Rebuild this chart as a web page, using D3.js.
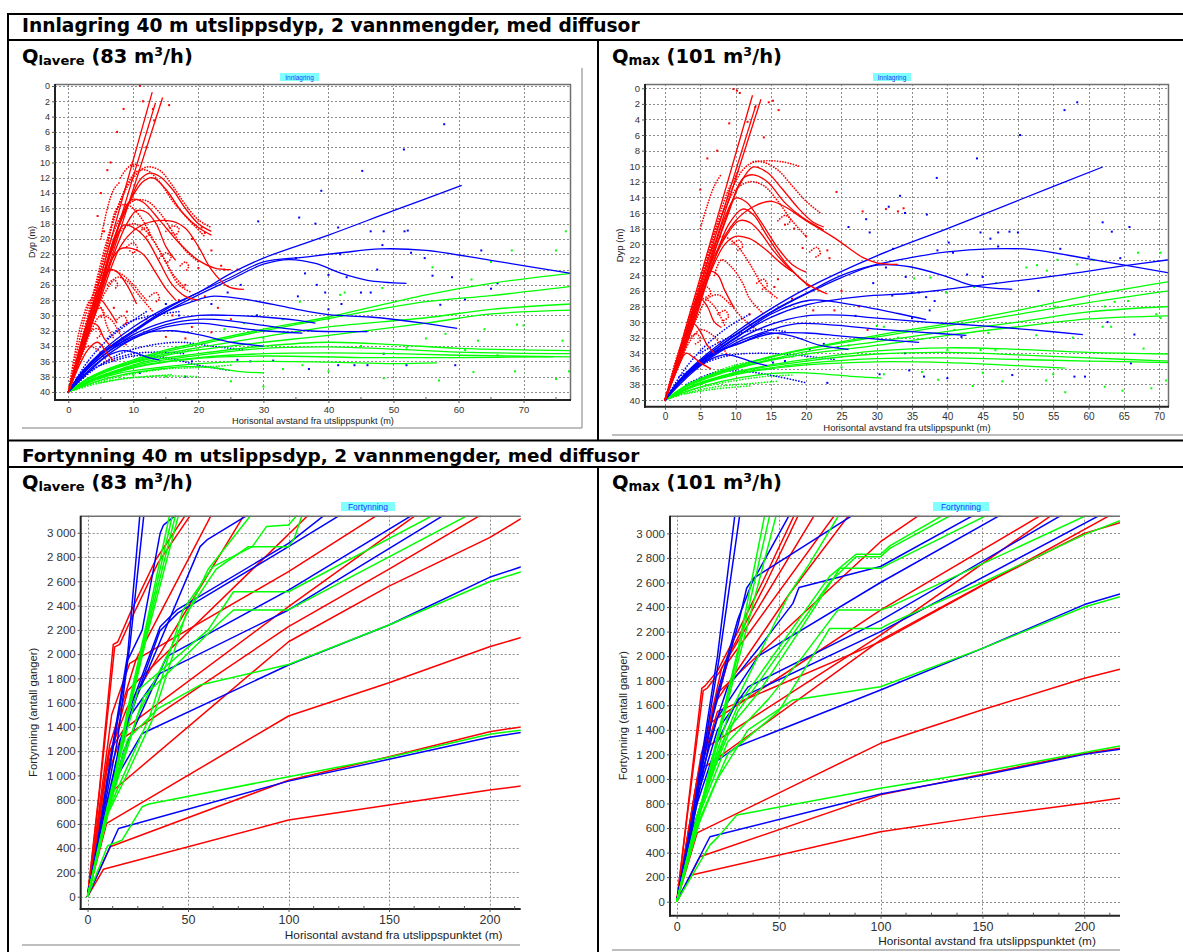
<!DOCTYPE html>
<html><head><meta charset="utf-8">
<script src="https://cdn.jsdelivr.net/npm/d3@7"></script>
<style>body{margin:0;background:#fff}svg{display:block}</style>
</head><body>
<svg id="c" width="1183" height="952"></svg>
<script>
// ================= DATA =================
const depthTicks = [0,2,4,6,8,10,12,14,16,18,20,22,24,26,28,30,32,34,36,38,40];
const innLowXTicks = [0,10,20,30,40,50,60,70];
const innLowXMinor = [5,15,25,35,45,55,65,75];
const innHighXTicks = [0,5,10,15,20,25,30,35,40,45,50,55,60,65,70];
const fortXTicks = [0,50,100,150,200];
const fortXMinor = [12.5,25,37.5,62.5,75,87.5,112.5,125,137.5,162.5,175,187.5,212.5];
const fortYTicks = [0,200,400,600,800,1000,1200,1400,1600,1800,2000,2200,2400,2600,2800,3000];

// ---- Innlagring, Q lavere ----
const innLowRedLines = [
 [[0,40],[12.9,0.8]],
 [[0,40],[14.5,1.5]],
 [[0,40],[13.4,2.2]],
 [[0,40],[4,29],[7,20],[9.5,15],[11,12.3],[12.5,11.4],[14,11.8],[16,13.5],[18,16],[20,18],[22,19]],
 [[0,40],[4,29],[7,20],[9.5,15],[11.5,12.5],[13,12],[15,13.5],[17.5,16.5],[20,18.5],[22,19.5]],
 [[0,40],[4,29],[7,20.5],[9,15.5],[10,14.8],[11.5,15.2],[14,17.5],[17,20.5],[20,22.8],[22.5,23.8],[25,24]],
 [[0,40],[4.5,29],[8,21],[10.5,18.6],[13,17.7],[16,17.7],[18,18.6],[20,21],[22,24],[24.5,26.2],[27,26.6]],
 [[0,40],[4,30],[7,22],[9,18],[10.5,16.3],[12,16.5],[13.5,18],[15,21],[16.5,22.8]],
 [[0,40],[4,30],[6.5,22],[8.5,18.2],[10,18.5],[12,20],[14,23],[16,26],[18,27.5],[20,28]],
 [[0,40],[4,30],[6.5,23],[8,21.3],[9.5,21.2],[11.5,22],[13.5,24.5],[15,26.5],[16.5,28]],
 [[0,40],[3,31],[5,26],[6.5,24],[7.5,24.3],[9,26],[10.5,28.5]],
 [[0,40],[2.5,32],[4,28.5],[5,28],[6,29],[7.5,31]],
 [[0,40],[2.5,33],[3.5,31],[4.5,31.3],[5.5,33],[6.5,34]],
 [[0,40],[3,34.5],[4.5,33.5],[6,35],[7,36]]
];
const innLowRedDotted = [
 [[0,40],[3,30],[6,20],[8,15],[10,12],[12,10.6],[14,11],[16,13],[18,15.5],[20,17.5],[22,18.5]],
 [[0,40],[3,31],[5,24],[7,17.5],[9,13],[10.5,11.2],[12,11],[14,12.5],[16,15],[18,17],[21,19.7]],
 [[0,40],[2,34],[4,27],[6,21],[7.5,16],[9,15.5],[11,17],[13,20],[15,23],[17,26],[19,27]],
 [[0,40],[1.5,34],[3,29],[5,25],[6,24],[8,24.5],[10,26],[12,28]],
 [[0,40],[1,35],[2,31],[3.5,28],[5,29],[6,31.5],[7,33]],
 [[0,40],[1.5,36],[3,32.5],[4.5,29],[6,26.5],[7.5,25],[9,25.5],[11,27.5],[13,29.5]],
 [[0,40],[2.5,33],[4.5,27],[6.5,22],[8,19],[10,18],[12,19],[14,21.5],[16,24.5],[18,26.5]],
 [[0,40],[2,35.5],[3.5,32],[5,30],[6.5,30.5],[8,32.5],[9,34]],
 [[0,40],[2.2,33.5],[4,28],[5.5,23.5],[7,19],[8.5,16.5],[10,15],[12,15],[14,16.5],[16,19],[18,21.5],[20,23]],
 [[0,40],[1,37],[2,35],[3,34],[4.5,34.5],[6,36]],
 [[5,20],[6,16],[7,13.5],[8,12.5]],
 [[8,12],[9,10.8],[10,10.2],[11,10.5]],
 [[15,19],[16,18.3],[17,18.6],[16.6,19.4],[15.8,19.2]],
 [[14,22.5],[15,21.8],[15.8,22.3],[15.3,23],[14.6,22.7]],
 [[17.2,23.5],[18,23],[18.5,23.6],[18,24.2]],
 [[9,21],[10,20.5],[10.6,21.2],[10,21.8],[9.4,21.5]],
 [[6,26],[7,25.3],[7.6,26],[7,26.6]],
 [[4,29.5],[5,29],[5.5,29.8],[4.9,30.3]],
 [[11,19],[12,18.5],[12.5,19.3],[11.8,19.8]],
 [[12.5,27.5],[13.5,27],[14,27.8],[13.3,28.3]],
 [[7.5,30.5],[8.5,30],[9,30.8],[8.3,31.3]],
 [[3.5,32],[4.5,31.7],[5,32.5],[4.3,33]]
];
const innLowRedPts = [[11,0],[7.5,6],[6.5,10],[10,10.5],[13,3],[12,8],[15.5,2.5],[13.2,4.5],[11.5,2],[8.5,3],[20.5,18.5],[21,19.2],[22,21.5],[23.5,23.5],[20,23.8],[18,26],[24,24],[26,24],[7,29],[12,30.5],[19,31.5],[25,30.5],[18,33],[22,32.2],[15,32.8],[9,29.5],[6,11],[5,14],[4.5,17],[5.5,19],[19,20],[17,28],[21,27.5],[23,29],[16,30]];
const innLowBlueLines = [
 [[0,40],[2,37.5],[5,34.8],[10,31.5],[15,29],[20,27],[25,24.5],[30,22.5],[40,19.5],[50,16.3],[60.5,13]],
 [[0,40],[2,37.5],[5,35],[10,32],[15,29.2],[20,27],[25,25],[30,23],[36,22.4],[42,21.8],[48,21.3],[55,21.5],[65,22.8],[77.3,24.5]],
 [[0,40],[2,37.5],[5,35],[10,32],[15,29.5],[20,27.3],[25,25.3],[30,23.3],[34,22.7],[38,23.2],[42,24.5],[46,25.4],[52,25.8]],
 [[0,40],[2,37.6],[5,35.1],[10,32.2],[15,29.5],[19,28.2],[22,27.5],[28,28],[34,29],[40,29.9],[46.4,30.2],[54.6,31],[59.8,31.7]],
 [[0,40],[2,37.8],[5,35.5],[10,32.5],[15,30.8],[20,30],[25,30],[30,30.2],[35,30.6],[38,31]],
 [[0,40],[3,36.8],[6,34.5],[10,32.8],[15,31.2],[20,30.5],[25,30.7],[30,31.3],[37,32],[46,32.1]],
 [[0,40],[3,37],[6,34.8],[10,33],[15,31.5],[20,31],[25,31.5],[30,32],[36,32.3]],
 [[0,40],[4,36.5],[8,34],[12,32.3],[16,32],[20,32.5],[25,33.5],[30,34]],
 [[0,40],[3,37.5],[6,35.3],[8.5,34.6],[10,34.8],[12,35.4],[14,35.8]]
];
const innLowBlueDotted = [
 [[0,40],[3,36],[6,33.2],[9,31.2],[12,29.5]],
 [[0,40],[4,37],[8,35],[12,34],[17,33.5],[22,34],[27,34.5]],
 [[5,36.5],[10,35.3],[15,35.5],[20,36.5],[25,37.2]],
 [[6,33],[9,31],[13,30],[17,29.5]],
 [[2,38],[6,36],[10,35],[14,34.8],[18,35]]
];
const innLowBluePts = [[57.8,5],[51.6,8.3],[45.2,11.1],[38.9,13.7],[35.5,17.2],[38,18],[29.2,17.7],[41.5,18.5],[46.5,19],[48.5,19],[51.7,19],[52.2,18.9],[48.3,20.8],[52.7,21.8],[41.8,22],[35,22.5],[36.4,24.5],[40,24.7],[47.5,24],[56,24.8],[59,25],[63.5,21.5],[42.8,25],[38.2,26],[45,27],[46.5,27],[35.3,27.5],[39.5,27],[57.2,28.6],[61,27.9],[24.5,27],[26.5,26],[22,28.5],[40,29.2],[42,28.5],[29,30],[48.5,35],[52,36.5],[44,36.5],[46,36.5],[37,37],[41.5,36.5],[59.5,36.5],[26,35.8],[28,36],[19,36],[11,37.5],[18,38],[31.5,35.9],[65,26.5],[66,25.8],[54.8,22.5],[15,28.5],[17,30]];
const innLowGreenLines = [
 [[0,40],[3,38.2],[6,37],[10,35.8],[15,34.5],[20,33.6],[30,31.8],[40,30.2],[55,27.3],[65,25.8],[77.3,24.5]],
 [[0,40],[3,38.3],[6,37.1],[10,36],[15,34.7],[20,33.8],[30,32],[40,30.4],[55,28.2],[65,27.4],[77.3,26.2]],
 [[0,40],[3,38.3],[6,37.2],[10,36.1],[15,35],[20,34.2],[30,32.8],[40,31.5],[55,30.3],[65,29.2],[77.3,28.5]],
 [[0,40],[3,38.4],[6,37.3],[10,36.2],[15,35.2],[20,34.5],[30,33.5],[40,32.6],[55,31],[65,29.8],[77.3,29.3]],
 [[0,40],[4,38.2],[8,37],[12,36],[20,35],[30,34],[40,33.5],[50,33.8],[60,34.3],[77.3,34.6]],
 [[0,40],[4,38.3],[8,37.1],[12,36.2],[20,35.2],[30,34.3],[40,34.1],[50,34.4],[60,34.8],[77.3,35]],
 [[0,40],[4,38.4],[8,37.2],[12,36.4],[20,35.5],[30,35],[40,34.9],[50,35],[60,35.2],[77.3,35.4]],
 [[0,40],[4,38.4],[8,37.3],[12,36.5],[20,35.6],[30,35.3],[45,35.5],[60,35.5],[74.6,35.4]],
 [[0,40],[4,38.5],[8,37.5],[14,36.8],[22,36.2],[30,36],[40,36.1],[50,36.3],[56.7,36.2]],
 [[0,40],[4,38.7],[8,37.8],[14,37],[18,36.7],[22,36.8],[26,37.3],[30,37.5]]
];
const innLowGreenDotted = [
 [[0,40],[4,39],[8,38.3],[12,38],[16,37.7]],
 [[0,40],[5,38.6],[10,37.6],[15,37],[20,36.8],[25,36.5]],
 [[5,38.8],[10,38.1],[15,37.9],[20,38]],
 [[8,36.5],[12,35.3],[16,34.8],[20,34.5]]
];
const innLowGreenPts = [[76.5,19],[75,21.5],[68.2,21.5],[65,23],[56,23.7],[62,25.3],[48.3,26.4],[42.5,27],[41.8,27.3],[35.6,28.2],[40,30.5],[42,30],[29,30],[33,30.5],[27,31],[24,31.8],[30,33],[45,34],[52,34.2],[61,34.5],[76,33.3],[64,31.8],[69,31.2],[70,31.3],[63,33.3],[66,35.2],[40,37.3],[48.5,38.2],[57,38.5],[62.3,37.4],[68.7,37.3],[75,38.3],[77,37.3],[30,39.3],[36,36.5],[33,37],[25,38.6],[15,38],[10,37.8],[55,33],[58,32.4]];

// ---- Innlagring, Q max ----
const innHighRedLines = [
 [[0,40],[12.4,0.9]],
 [[0,40],[13.6,1.4]],
 [[0,40],[12.9,2.1]],
 [[0,40],[4,29],[7,21],[9,16],[10.5,12.5],[12.5,10.1],[14.5,10.8],[16.5,12.8],[19,15.5],[21,17.2],[22.5,17.8]],
 [[0,40],[4,29],[7,21],[9.5,14.5],[11,11.6],[12.5,11.1],[14.5,12],[17,14.7],[19.5,16.6],[22.5,18.2]],
 [[0,40],[4,29.5],[7,21.5],[10,17],[12.5,15.2],[15,14.5],[17,15.2],[20,17],[24,19.2],[28,21.7],[30,22.4],[33,22.6]],
 [[0,40],[4,29.5],[7,20.5],[8.5,16.5],[10,14.1],[11.5,14.6],[13.5,17],[16,20.5],[18,22.6],[20,23.6]],
 [[0,40],[4,30],[7,22],[9,17.5],[11,15.5],[12.5,16.2],[14.5,19],[17,22.3],[20,25],[23,26.4]],
 [[0,40],[4,30],[6.5,23],[8.5,19.2],[10.5,17],[12,17.2],[13.5,18.5],[15.5,21],[17.5,23],[20.5,25.5]],
 [[0,40],[4,30.5],[6.5,23.5],[8.5,20],[10,19],[12,19.3],[14,20.5],[16.5,22.5],[18,23.5]],
 [[0,40],[3,32],[5,26],[6.5,23.5],[7.5,24],[8.5,26],[9.8,28.2]],
 [[0,40],[2.5,33],[4,28.5],[5,27],[6,28],[7,30],[8,30.7]],
 [[0,40],[2,34.5],[3,32],[4,30.2],[5,31.2],[6,33],[7,34]],
 [[0,40],[2,35.5],[3,34],[4,34.5],[5,35.2],[6.5,36]]
];
const innHighRedDotted = [
 [[0,40],[3,31],[5,25],[7,19],[9,14],[11,10.5],[12.5,9.5],[14,9.5],[16,10.5],[18,12.5],[20,14.5],[22,16]],
 [[0,40],[2.5,33],[4.5,27],[6,22],[7.5,17],[9,13],[10.5,10.5]],
 [[12.5,9.4],[15,9.3],[17,9.5],[19,10]],
 [[0,40],[2,34],[3.5,29],[5,25],[6.5,21],[8,19],[10,20],[12,22.5],[14,25.5],[16,27]],
 [[0,40],[1.5,35],[3,31],[4,28],[5.5,27],[7,28],[8.5,30.5]],
 [[7,24],[8,22],[9.5,23],[11,25],[12,27],[14,29]],
 [[0,40],[2.2,33.5],[4,28],[5.5,23],[7,18.5],[8.5,15.5],[10,13],[12,12],[14,12.5],[16,14.5],[18,17],[20,19]],
 [[0,40],[1.5,36],[3,32.5],[4.5,29.5],[6,27],[7.5,26.5],[9,27.5],[11,29.5],[13,31]],
 [[0,40],[2,35.5],[3.5,32.5],[5,31],[6.5,31.5],[8,33],[9,34.5]],
 [[5,18],[6,15],[7,12.5],[8,11]],
 [[16,17],[17,16.3],[17.8,16.9],[17.2,17.6]],
 [[20.5,21],[21.5,20.4],[22,21.2],[21.3,21.7]],
 [[9.5,20],[10.5,19.5],[11,20.3],[10.3,20.8]],
 [[5,26],[6,25.5],[6.5,26.3],[5.8,26.8]],
 [[13,25],[14,24.5],[14.5,25.3],[13.8,25.8]],
 [[7.5,29],[8.5,28.5],[9,29.3],[8.3,29.8]],
 [[3.5,32],[4.5,31.5],[5,32.3],[4.3,32.8]]
];
const innHighRedPts = [[9.7,0.1],[10.2,0.3],[10.6,0.6],[14.7,1.8],[15.3,1.6],[12.8,2.4],[16.1,2.8],[9.1,4.5],[11.7,4.3],[14,6.3],[7.4,8],[24.3,13.3],[31.3,15.5],[33,15.8],[33.8,15.4],[28,15.8],[23,20.8],[23.3,21.8],[17,17.5],[18.3,18],[25,26],[27.5,28],[24,28.5],[28.7,31],[20,19],[19.5,20.5],[16,24.5],[15.5,25.5],[6,9],[5,13],[18,27],[21,28.5],[12,29],[16,32]];
const innHighBlueLines = [
 [[0,40],[2,37.5],[5,34.8],[10,31.3],[15,28.3],[20,25.7],[30,21.5],[40,18],[50,14.4],[62,10.1]],
 [[0,40],[2,37.6],[5,35],[10,31.6],[15,28.7],[20,26.3],[25,24],[30,22.6],[35,21.7],[40,21],[46,20.6],[52,20.7],[60,21.9],[71.4,23.7]],
 [[0,40],[2,37.6],[5,35],[10,31.7],[15,28.8],[20,26.4],[25,24.3],[30,22.7],[34.7,22.9],[40,24.2],[43.5,25.3],[49.2,25.8]],
 [[0,40],[2,37.7],[5,35.2],[10,32],[15,29.4],[20,27.8],[28,26.7],[35,26.3],[43.5,25.4],[55,24.1],[64.9,22.8],[71.4,22]],
 [[0,40],[2,37.7],[5,35.2],[10,32.1],[15,29],[20.5,27.2],[26,27.7],[33,28.9],[37,29.7]],
 [[0,40],[2,37.8],[5,35.4],[10,32.4],[15,30.3],[20,29.2],[25,29.1],[30,29.5],[37,30],[45,30.5],[52,31],[59.2,31.6]],
 [[0,40],[2,37.8],[5,35.5],[10,32.7],[15,31],[18.7,30.2],[24,30.4],[30,30.9],[36,31.3],[42.7,31.7]],
 [[0,40],[3,36.7],[6,34.4],[10,32.9],[15,31.5],[20,31.4],[25,31.8],[30,32.2],[36,32.6]],
 [[0,40],[3,37.2],[6,35],[8.3,34.2],[10,34.4],[12,35],[14.5,35.6]],
 [[0,40],[3,36.9],[7,34],[11,32.6],[14.4,31.4],[18,31.8],[22,33],[26,33.5]]
];
const innHighBlueDotted = [
 [[0,40],[3,35.8],[6,32.8],[9,30.6],[12,29]],
 [[2,37],[5,35.5],[9,34.3],[13,34],[18,34.2],[24,34.8]],
 [[3,38],[7,36.5],[11,36.3],[16,37],[20,37.8]],
 [[5,34],[9,32],[13,31],[17,31.2]]
];
const innHighBluePts = [[58.4,1.8],[56.6,2.8],[50.3,6],[44.2,9],[38.5,11.5],[33.3,13.8],[31.7,15.2],[34,16],[28.5,16.8],[26,17.8],[29,18.5],[37.1,16.2],[62,17.2],[63.3,18.4],[65.8,17.8],[44.7,18.5],[47.2,18.5],[48.8,18.4],[50,18.5],[46.1,19.3],[47.2,20.3],[40.2,19.8],[40.8,21.1],[38.6,20.8],[32.3,20.6],[31.3,23],[34.1,24.2],[56,20.6],[60,21.6],[64.5,21.8],[42.8,23.9],[45,24.2],[29.5,25],[35,26.2],[32.2,26.6],[36,26.2],[37,26.8],[38.2,27.3],[37.5,28.5],[35,29.5],[27,29.2],[52.9,26],[62.7,30],[42,31.9],[66.5,31.6],[34,34],[49.2,36.8],[40,37.2],[36.7,37],[34.6,36.2],[30.4,36.7],[58,37],[59.5,37],[66,35.3],[24.5,33.2],[22.5,32.8],[20.5,33.5],[17,35],[15.3,35.2],[23,37.8]];
const innHighGreenLines = [
 [[0,40],[3,38.1],[6,36.9],[10,35.7],[15,34.4],[20,33.4],[30,31.7],[40,30.2],[50,28.5],[60,26.6],[71.4,24.8]],
 [[0,40],[3,38.2],[6,37],[10,35.8],[15,34.5],[20,33.5],[30,31.9],[40,30.5],[50,29],[60,27.5],[71.4,26]],
 [[0,40],[3,38.3],[6,37.1],[10,35.9],[15,34.8],[20,33.8],[30,32.5],[40,31.2],[50,30],[60,28.7],[71.4,28]],
 [[0,40],[3,38.3],[6,37.2],[10,36],[15,34.9],[20,34.1],[30,33],[40,31.7],[50,30.6],[60,29.6],[71.4,29.2]],
 [[0,40],[4,38.1],[8,36.9],[12,36],[20,34.8],[30,33.7],[40,33.3],[50,33.5],[60,33.9],[71.4,34.1]],
 [[0,40],[4,38.2],[8,37],[12,36.1],[20,35],[30,34.1],[40,33.9],[50,34.2],[60,34.6],[71.4,35]],
 [[0,40],[4,38.3],[8,37.1],[12,36.3],[20,35.3],[30,34.7],[40,34.6],[50,34.8],[60,35],[71.4,35.2]],
 [[0,40],[4,38.3],[8,37.2],[12,36.4],[20,35.5],[30,35.1],[40,35.2],[50,35.6],[56.7,35.9]],
 [[0,40],[4,38.6],[8,37.6],[13,36.8],[18,36.5],[23,36.7],[27,37],[30.7,37.2]]
];
const innHighGreenDotted = [
 [[0,40],[4,38.9],[8,38.2],[12,37.9],[16,37.6]],
 [[1,39.5],[5,38.4],[10,37.5],[14,37],[18,36.8]],
 [[3,39.2],[7,38.6],[12,38.2]],
 [[6,36.8],[10,35.5],[14,34.8],[18,34.5]]
];
const innHighGreenPts = [[70.2,21.1],[67,21.1],[55.6,22],[60.5,22],[58.4,22.6],[54.1,23.4],[51.2,23],[52.7,22.7],[46.9,25],[43.8,25.5],[35.3,24.4],[37.6,24.3],[39.8,26.2],[55.3,28],[62.3,28],[63.7,27.4],[65.6,27.3],[69.6,29],[70.2,29.5],[62,30.6],[63.2,30.6],[41,31],[45.8,31.4],[30,30.5],[31,30.6],[33,32],[40,33.6],[52.6,31.7],[57.8,32],[67.8,33.4],[44.7,33.6],[46.8,33.6],[31,36.7],[36.4,36.4],[38.7,37.4],[45,36.5],[47.8,37.6],[54,37.5],[56.7,39],[55,36.7],[62.3,38.3],[64.8,38.8],[68.9,38.5],[71,37.5],[43.6,38.2],[25,35.8],[26,33]];

// ---- Fortynning, Q lavere ----
const fortLowRed = [
 [[0,0],[6,900],[12.8,2080],[15,2100],[21,2330],[34,2780],[49.3,3160]],
 [[0,0],[6,870],[13.5,2060],[16,2080],[22,2300],[35,2750],[51.8,3160]],
 [[0,0],[7.9,226],[100,632],[150,756],[200,880],[216,913]],
 [[0,0],[11.2,412],[100,960],[150,1154],[200,1360],[216,1401]],
 [[0,0],[9.5,605],[100,1490],[150,1764],[200,2061],[216,2138]],
 [[0,0],[8,750],[13,880],[100,2102],[150,2560],[200,2960],[216,3120]],
 [[0,0],[10,1000],[16.2,1291],[100,2226],[150,2700],[197,3160]],
 [[0,0],[10,1150],[19.5,1552],[78.4,3160]],
 [[0,0],[11,1200],[18,1380],[100,2391],[164.6,3160]],
 [[0,0],[12,1500],[21,1924],[100,2680],[145.5,3160]],
 [[0,0],[9,1000],[20,1700],[110.7,3160]],
 [[0,0],[11,1250],[24,1950],[62,3160]]
];
const fortLowBlue = [
 [[0,0],[5,450],[12,1200],[20,2000],[26.1,3160]],
 [[0,0],[5,420],[12,1150],[21,2060],[28.1,3160]],
 [[0,0],[8,700],[15,1300],[20,1950],[27.2,2198],[36.1,2996],[37.8,3064],[45,3160]],
 [[0,0],[8,650],[14,1100],[24.5,1649],[56,2886],[59.4,2941],[81,3160]],
 [[0,0],[10,800],[20,1500],[36.1,2226],[44.4,2364],[100,2913],[119,3160]],
 [[0,0],[10,780],[20,1450],[36,2190],[45,2340],[100,2886],[127,3160]],
 [[0,0],[10,700],[18,1200],[39.4,1979],[100,2528],[163,3160]],
 [[0,0],[10,720],[16.2,1291],[20.9,1484],[36.1,1841],[100,2364],[178.7,3160]],
 [[0,0],[8,600],[15,1000],[27.2,1346],[100,1910],[150,2240],[200,2633],[216,2721]],
 [[0,0],[15.4,563],[100,953],[150,1133],[200,1314],[216,1355]]
];
const fortLowGreen = [
 [[0,0],[10,700],[20,1550],[30,2300],[41,3160]],
 [[0,0],[10,690],[20,1520],[30,2260],[42.5,3160]],
 [[0,0],[10,680],[20,1500],[30,2220],[44,3160]],
 [[0,0],[10,670],[20,1480],[30,2180],[45.5,3160]],
 [[0,0],[10,420],[17.2,467],[27.2,742],[30.5,764],[100,989],[150,1150],[200,1340],[216,1374]],
 [[0,0],[10,700],[17.6,990],[30.9,1484],[47.5,2364],[62.5,2721],[82,2886],[89,3051],[100,3064],[105,3160]],
 [[0,0],[10,680],[18,950],[32,1450],[49,2330],[64,2700],[80,2886],[100,2886],[103,2960],[107,3160]],
 [[0,0],[12,900],[25,1700],[60,2200],[72.6,2514],[100,2514],[173.7,3160]],
 [[0,0],[12,850],[28,1650],[65,2250],[72.6,2364],[100,2364],[191,3160]],
 [[0,0],[10,750],[20,1300],[35,1550],[56,1745],[100,1915],[150,2240],[200,2597],[216,2680]],
 [[0,0],[10,700],[25,1500],[40,2000],[60,2700],[82,3160]]
];

// ---- Fortynning, Q max ----
const fortHighRed = [
 [[0,0],[5,700],[12.3,1738],[14,1760],[20,1880],[30,2200],[42,2600],[58,3160]],
 [[0,0],[5,680],[13,1720],[15,1740],[21,1870],[31,2180],[44,2600],[60,3160]],
 [[0,0],[7.3,217],[100,570],[150,693],[200,802],[217.5,842]],
 [[0,0],[11.4,366],[100,870],[150,1039],[200,1207],[217.5,1250]],
 [[0,0],[10,560],[100,1290],[150,1563],[200,1820],[217.5,1893]],
 [[0,0],[8,650],[12,1100],[15,1110],[100,2130],[150,2580],[200,3000],[217.5,3087]],
 [[0,0],[9,800],[14,1250],[100,2172],[185,3160]],
 [[0,0],[10,900],[16,1450],[100,2375],[180,3160]],
 [[0,0],[11,1000],[20,1700],[100,2932],[120,3160]],
 [[0,0],[12,1100],[20,1550],[100,2118],[214,3160]],
 [[0,0],[10,1000],[22,1900],[68,3160]],
 [[0,0],[12,1200],[25,1950],[78,3160]],
 [[0,0],[9,900],[18,1600],[55,2500],[85,3160]]
];
const fortHighBlue = [
 [[0,0],[5,380],[12,1150],[20,2000],[28.6,3160]],
 [[0,0],[5,360],[12,1100],[21,2000],[31,3160]],
 [[0,0],[8,700],[16,1400],[24,1900],[30,2250],[34.3,2553],[37.6,2634],[87.5,3160]],
 [[0,0],[8,650],[16,1300],[25,1750],[40,2060],[57,2430],[60,2560],[100,2730],[147,3160]],
 [[0,0],[10,900],[20,1500],[40,2000],[100,2600],[160,3160]],
 [[0,0],[10,850],[20,1400],[35,1750],[100,2290],[190,3160]],
 [[0,0],[10,800],[20,1300],[30,1650],[100,2200],[209,3160]],
 [[0,0],[8,600],[16,1000],[20,1150],[29.5,1262],[100,1724],[150,2063],[200,2420],[217.5,2506]],
 [[0,0],[16.3,529],[100,878],[150,1030],[200,1200],[217.5,1241]],
 [[0,0],[10,900],[20,1700],[30,2300],[37,2600],[55.6,3160]]
];
const fortHighGreen = [
 [[0,0],[10,650],[20,1350],[30,2050],[43.3,3160]],
 [[0,0],[10,640],[20,1330],[30,2010],[45.8,3160]],
 [[0,0],[10,630],[20,1300],[30,1950],[49,3160]],
 [[0,0],[10,700],[20,1200],[30,1600],[45,1950],[60,2300],[75,2650],[88,2830],[100,2830],[104.7,2900],[132,3160]],
 [[0,0],[10,680],[20,1150],[30,1550],[45,1900],[60,2250],[75,2600],[88,2810],[100,2810],[104.7,2880],[136,3160]],
 [[0,0],[12,800],[25,1400],[40,1700],[60,2200],[80,2715],[100,2715],[104.7,2756],[153.7,3160]],
 [[0,0],[12,750],[25,1300],[45,1650],[62,2000],[79,2375],[100,2375],[104.7,2403],[202.8,3160]],
 [[0,0],[12,700],[25,1200],[50,1550],[75,2225],[100,2225],[104.7,2267],[150,2600],[200,2990],[217.5,3103]],
 [[0,0],[10,600],[20,1000],[35,1400],[57,1643],[100,1751],[150,2063],[200,2400],[217.5,2484]],
 [[0,0],[16.3,461],[20.4,530],[29.5,706],[100,924],[150,1060],[200,1215],[217.5,1268]],
 [[0,0],[10,700],[25,1500],[40,2000],[55,2500],[65,2750],[80,3160]]
];

// ================= DRAWING =================
const svg = d3.select('#c');
const RED='#ff0000', BLUE='#0000ff', GREEN='#00ff00';
const nb = d3.formatLocale({decimal:',',thousands:'\u00a0',grouping:[3],currency:['','']}).format(',d');
const SANS='Liberation Sans, Arial, sans-serif';
let clipId=0;

function plot(o){
  const g = svg.append('g');
  const x = d3.scaleLinear().domain(o.xDomain).range([o.left,o.right]);
  const y = d3.scaleLinear().domain(o.yDomain).range([o.top,o.bottom]);
  const id='clip'+(clipId++);
  g.append('clipPath').attr('id',id).append('rect')
    .attr('x',o.left).attr('y',o.top).attr('width',o.right-o.left).attr('height',o.bottom-o.top);
  const grid = g.append('g').attr('stroke','#8c8c8c').attr('stroke-width',1).attr('stroke-dasharray','2,2');
  o.yTicks.forEach(v=>grid.append('line').attr('x1',o.left).attr('x2',o.right).attr('y1',Math.round(y(v))+0.5).attr('y2',Math.round(y(v))+0.5));
  o.xGrid.forEach(v=>grid.append('line').attr('y1',o.top).attr('y2',o.bottom).attr('x1',Math.round(x(v))+0.5).attr('x2',Math.round(x(v))+0.5));
  const body = g.append('g').attr('clip-path','url(#'+id+')');
  const line = d3.line().x(d=>x(d[0])).y(d=>y(d[1])).curve(o.smooth?d3.curveCatmullRom.alpha(0.5):d3.curveLinear);
  (o.series||[]).forEach(s=>{
    if(s.pts){
      body.append('g').attr('fill',s.color).selectAll('rect').data(s.pts).join('rect')
        .attr('x',d=>x(d[0])-1).attr('y',d=>y(d[1])-1).attr('width',2).attr('height',2);
    } else {
      body.append('g').selectAll('path').data(s.lines).join('path')
        .attr('d',line).attr('fill','none').attr('stroke',s.color)
        .attr('stroke-width',s.width).attr('stroke-linejoin','round')
        .attr('stroke-dasharray',s.dash||null).attr('stroke-linecap',s.dash?'round':'butt');
    }
  });
  g.append('line').attr('x1',o.left).attr('x2',o.right).attr('y1',o.top+0.5).attr('y2',o.top+0.5).attr('stroke','#707070').attr('stroke-width',1.5);
  if(o.rightFrame) g.append('line').attr('x1',o.right-0.5).attr('x2',o.right-0.5).attr('y1',o.top).attr('y2',o.bottom).attr('stroke','#707070').attr('stroke-width',1.5);
  g.append('line').attr('x1',o.left).attr('x2',o.left).attr('y1',o.top).attr('y2',o.bottom+1).attr('stroke','#222').attr('stroke-width',2);
  g.append('line').attr('x1',o.left-1).attr('x2',o.right).attr('y1',o.bottom).attr('y2',o.bottom).attr('stroke','#222').attr('stroke-width',2);
  const ya = g.append('g').attr('transform','translate('+o.left+',0)')
    .call(d3.axisLeft(y).tickValues(o.yTicks).tickSize(3).tickPadding(2).tickFormat(o.yFmt||(d=>d)));
  ya.select('.domain').remove();
  ya.selectAll('text').attr('font-family',SANS).attr('font-size',o.yTickFont).attr('fill','#333');
  ya.selectAll('line').attr('stroke','#555');
  const xa = g.append('g').attr('transform','translate(0,'+o.bottom+')')
    .call(d3.axisBottom(x).tickValues(o.xTicks).tickSize(3).tickPadding(o.xPad||3));
  xa.select('.domain').remove();
  xa.selectAll('text').attr('font-family',SANS).attr('font-size',o.xTickFont).attr('fill','#333');
  xa.selectAll('line').attr('stroke','#555');
  if(o.xMinor){
    g.append('g').selectAll('line').data(o.xMinor).join('line')
      .attr('x1',d=>x(d)).attr('x2',d=>x(d)).attr('y1',o.bottom-3).attr('y2',o.bottom).attr('stroke','#555');
  }
  g.append('text').attr('x',(o.left+o.right)/2+(o.xTitleDx||0)).attr('y',o.xTitleY).attr('text-anchor','middle')
    .attr('font-family',SANS).attr('font-size',o.xTitleFont).attr('fill','#222').text(o.xTitle);
  g.append('text').attr('transform','translate('+o.yTitleX+','+((o.top+o.bottom)/2+(o.yTitleDy||0))+') rotate(-90)').attr('text-anchor','middle')
    .attr('font-family',SANS).attr('font-size',o.yTitleFont).attr('fill','#222').text(o.yTitle);
  const lb = g.append('g');
  lb.append('rect').attr('x',o.box[0]).attr('y',o.box[1]).attr('width',o.box[2]).attr('height',o.box[3]).attr('fill','#80ffff');
  lb.append('text').attr('x',o.box[0]+o.box[2]/2).attr('y',o.box[1]+o.box[3]-1.5).attr('text-anchor','middle')
    .attr('font-family',SANS).attr('font-size',o.boxFont).attr('fill','#1a40ff').text(o.boxText);
}

function innSeries(rl,rd,rp,bl,bd,bp,gl,gd,gp){
  return [
    {pts:gp,color:GREEN},{pts:bp,color:BLUE},{pts:rp,color:RED},
    {lines:gd,color:GREEN,width:1.7,dash:'0.1,2.8'},
    {lines:bd,color:BLUE,width:1.7,dash:'0.1,2.8'},
    {lines:rd,color:RED,width:1.7,dash:'0.1,2.6'},
    {lines:gl,color:GREEN,width:1.3},
    {lines:bl,color:BLUE,width:1.3},
    {lines:rl,color:RED,width:1.3}
  ];
}

const frame = svg.append('g').attr('stroke','#000').attr('stroke-width',2);
[[7,14,1190,14],[7,40,1190,40],[7,440.5,1190,440.5],[7,467,1190,467],[8,13,8,952],[598,40,598,440],[598,467,598,952]]
  .forEach(l=>frame.append('line').attr('x1',l[0]).attr('y1',l[1]).attr('x2',l[2]).attr('y2',l[3]));
const cb = svg.append('g').attr('stroke','#a8a8a8').attr('stroke-width',1.5);
[[22,428,582,428],[582,68,582,428],[612,435,1183,435],[22,945,520,945],[612,950,1120,950]]
  .forEach(l=>cb.append('line').attr('x1',l[0]).attr('y1',l[1]).attr('x2',l[2]).attr('y2',l[3]));

function headTitle(txt,x,y,w){
  const t = svg.append('text').attr('x',x).attr('y',y).attr('font-family','DejaVu Sans, Verdana, sans-serif')
    .attr('font-weight','bold').attr('font-size',16).attr('fill','#000').text(txt);
  const m = t.node().getComputedTextLength();
  t.attr('font-size',16*w/m);
}
function qLabel(sub,val,x,y,w){
  const t = svg.append('text').attr('x',x).attr('y',y).attr('font-family','DejaVu Sans, Verdana, sans-serif')
    .attr('font-weight','bold').attr('fill','#000').attr('font-size',17);
  t.append('tspan').text('Q');
  t.append('tspan').attr('font-size',11.5).attr('dy',2).text(sub);
  t.append('tspan').attr('dy',-2).text(' ('+val+' m');
  t.append('tspan').attr('font-size',11).attr('dy',-7).text('3');
  t.append('tspan').attr('dy',7).text('/h)');
  const m = t.node().getComputedTextLength();
  const s = w/m;
  t.attr('font-size',17*s);
  t.selectAll('tspan').each(function(){const fs=d3.select(this).attr('font-size'); if(fs) d3.select(this).attr('font-size',fs*s);});
}
headTitle('Innlagring 40 m utslippsdyp, 2 vannmengder, med diffusor',22,32,618);
headTitle('Fortynning 40 m utslippsdyp, 2 vannmengder, med diffusor',22,461.5,618);
qLabel('lavere','83',22,63,171);
qLabel('max','101',612,63,170);
qLabel('lavere','83',22,489,171);
qLabel('max','101',612,489,170);

plot({left:55,right:571,top:84,bottom:400,xDomain:[-2.05,77.3],yDomain:[-0.26,41.05],
  yTicks:depthTicks,xTicks:innLowXTicks,xGrid:innLowXTicks,xMinor:innLowXMinor,smooth:true,rightFrame:true,
  yTickFont:9,xTickFont:9.5,xTitleFont:9.2,yTitleFont:9,xTitle:'Horisontal avstand fra utslippspunkt (m)',xTitleY:424,yTitle:'Dyp (m)',yTitleX:35,
  box:[280,73,39,8],boxText:'Innlagring',boxFont:6.5,
  series:innSeries(innLowRedLines,innLowRedDotted,innLowRedPts,innLowBlueLines,innLowBlueDotted,innLowBluePts,innLowGreenLines,innLowGreenDotted,innLowGreenPts)});
plot({left:645,right:1169,top:84,bottom:406.7,xDomain:[-2.83,71.4],yDomain:[-0.55,40.86],
  yTicks:depthTicks,xTicks:innHighXTicks,xGrid:innHighXTicks,smooth:true,rightFrame:true,
  yTickFont:9.5,xTickFont:10,xTitleFont:9.5,yTitleFont:9.5,xTitle:'Horisontal avstand fra utslippspunkt (m)',xTitleY:431,yTitle:'Dyp (m)',yTitleX:623,
  box:[873,73,38,8],boxText:'Innlagring',boxFont:6.5,
  series:innSeries(innHighRedLines,innHighRedDotted,innHighRedPts,innHighBlueLines,innHighBlueDotted,innHighBluePts,innHighGreenLines,innHighGreenDotted,innHighGreenPts)});
plot({left:80.7,right:520.7,top:515.7,bottom:909,xDomain:[-3.4,215.5],yDomain:[3141,-101],
  yTicks:fortYTicks,xTicks:fortXTicks,xGrid:fortXTicks,xMinor:fortXMinor,yFmt:nb,smooth:false,
  yTickFont:11.5,xTickFont:12.5,xTitleFont:11.8,yTitleFont:11.3,xTitle:'Horisontal avstand fra utslippspunktet (m)',xTitleY:939,xTitleDx:93,yTitle:'Fortynning (antall ganger)',yTitleX:37,
  box:[341,502,54,9],boxText:'Fortynning',boxFont:8.5,
  series:[{lines:fortLowRed,color:RED,width:1.5},{lines:fortLowBlue,color:BLUE,width:1.5},{lines:fortLowGreen,color:GREEN,width:1.5}]});
plot({left:670,right:1120,top:515.7,bottom:915.7,xDomain:[-3.3,217.5],yDomain:[3144,-114],
  yTicks:fortYTicks,xTicks:fortXTicks,xGrid:fortXTicks,xMinor:fortXMinor,yFmt:nb,smooth:false,
  yTickFont:11.5,xTickFont:12.5,xTitleFont:11.8,yTitleFont:11.3,xTitle:'Horisontal avstand fra utslippspunktet (m)',xTitleY:945,xTitleDx:92,yTitle:'Fortynning (antall ganger)',yTitleX:627,
  box:[933,502,56,9],boxText:'Fortynning',boxFont:8.5,
  series:[{lines:fortHighRed,color:RED,width:1.5},{lines:fortHighBlue,color:BLUE,width:1.5},{lines:fortHighGreen,color:GREEN,width:1.5}]});
</script>
</body></html>
